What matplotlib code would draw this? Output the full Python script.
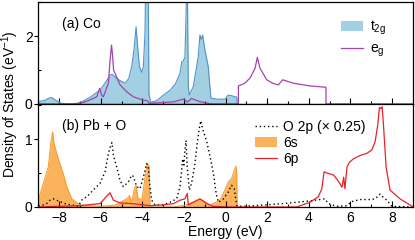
import numpy as np
import matplotlib
matplotlib.use("Agg")
import matplotlib.pyplot as plt
from matplotlib.ticker import MultipleLocator

plt.rcParams['font.family'] = ['Liberation Sans', 'DejaVu Sans']
plt.rcParams['font.size'] = 10
plt.rcParams['mathtext.fontset'] = 'custom'
plt.rcParams['mathtext.rm'] = 'Liberation Sans'
plt.rcParams['mathtext.it'] = 'Liberation Sans'

# (a) Co t2g / eg
t2g_x = [-9.0, -8.7, -8.5, -8.36, -8.2, -7.9, -7.5, -7.1, -6.9, -6.5, -6.03, -5.75, -5.55,
         -5.45, -5.32, -5.1, -4.83, -4.65, -4.51, -4.4, -4.3, -4.2, -4.14, -4.03, -3.95,
         -3.87, -3.83, -3.72, -3.68, -3.6, -3.3, -3.0, -2.67, -2.4, -2.19, -2.1, -2.03,
         -1.95, -1.84, -1.79, -1.74, -1.55, -1.39, -1.31, -1.23, -1.17, -1.1, -0.99, -0.83,
         -0.75, -0.7, -0.4, -0.03, 0.13, 0.3, 0.46, 0.54, 0.56]
t2g_y = [0.07, 0.1, 0.17, 0.19, 0.12, 0.02, 0.0, 0.02, 0.07, 0.2, 0.41, 0.65, 0.85,
         0.87, 0.8, 0.7, 0.61, 0.75, 1.1, 1.6, 2.27, 1.5, 1.1, 0.93, 1.1,
         2.1, 4.0, 4.0, 0.3, 0.05, 0.1, 0.25, 0.4, 0.6, 0.9, 1.24, 1.27,
         1.38, 4.0, 0.5, 0.26, 0.51, 1.1, 1.39, 2.03, 1.9, 2.03, 1.59, 1.1,
         0.51, 0.17, 0.14, 0.14, 0.26, 0.24, 0.21, 0.2, 0.0]

eg_x = [-9.0, -7.2, -6.8, -6.51, -6.19, -6.05, -5.95, -5.87, -5.63, -5.56, -5.48, -5.44,
        -5.38, -5.07, -4.75, -4.43, -4.0, -3.75, -3.67, -3.3, -2.5, -2.03, -1.9, -1.84,
        -1.63, -1.3, -1.07, -0.7, 0.62, 0.62, 0.9, 1.18, 1.42, 1.53, 1.66, 1.98, 2.3,
        2.54, 2.75, 3.26, 4.06, 4.83, 4.83, 9.0]
eg_y = [0.0, 0.0, 0.05, 0.12, 0.21, 0.46, 0.25, 0.21, 0.61, 1.2, 1.73, 1.5,
        1.0, 0.56, 0.36, 0.21, 0.12, 0.09, 0.02, 0.03, 0.06, 0.14, 0.1, 0.05,
        0.16, 0.08, 0.05, 0.0, 0.0, 0.53, 0.6, 0.76, 1.05, 1.37, 1.05, 0.71, 0.6,
        0.56, 0.71, 0.61, 0.53, 0.49, 0.0, 0.0]

# (b) Pb + O
s6_x = [-9.0, -8.76, -8.52, -8.4, -8.31, -8.25, -8.04, -7.8, -7.63, -7.39, -7.0, -6.0,
        -5.3, -5.07, -4.75, -4.62, -4.51, -4.4, -4.3, -4.19, -4.0, -3.87, -3.76, -3.67,
        -3.63, -3.4, -2.5, -1.9, -1.5, -1.23, -1.0, -0.75, -0.27, -0.03, 0.13, 0.29,
        0.42, 0.5, 0.54, 0.56]
s6_y = [0.1, 0.35, 0.59, 0.95, 1.11, 0.94, 0.71, 0.49, 0.3, 0.12, 0.03, 0.01,
        0.03, 0.07, 0.12, 0.17, 0.07, 0.25, 0.32, 0.1, 0.14, 0.44, 0.64, 0.6,
        0.0, 0.0, 0.0, 0.03, 0.08, 0.12, 0.08, 0.03, 0.1, 0.25, 0.37, 0.42,
        0.54, 0.6, 0.5, 0.0]

p6_x = [-9.0, -7.0, -6.03, -5.71, -5.55, -5.39, -5.07, -4.5, -3.63, -3.0, -2.5, -2.19,
        -1.95, -1.84, -1.79, -1.55, -1.23, -0.9, -0.6, 0.0, 3.0, 3.42, 4.06, 4.46, 4.63,
        4.74, 4.88, 5.2, 5.33, 5.49, 5.6, 5.68, 5.74, 5.84, 5.96, 6.15, 6.47, 6.79, 7.03,
        7.19, 7.32, 7.4, 7.47, 7.53, 7.59, 7.72, 7.91, 8.39, 8.87, 9.0]
p6_y = [0.0, 0.02, 0.05, 0.16, 0.21, 0.1, 0.06, 0.05, 0.02, 0.03, 0.05, 0.1,
        0.12, 0.2, 0.03, 0.07, 0.12, 0.05, 0.01, 0.0, 0.0, 0.0, 0.07, 0.15, 0.27,
        0.52, 0.5, 0.47, 0.42, 0.35, 0.29, 0.44, 0.27, 0.59, 0.66, 0.71, 0.76, 0.79, 0.84,
        0.96, 1.21, 1.47, 1.45, 1.48, 1.23, 0.59, 0.25, 0.12, 0.03, 0.0]

o2p_x = [-9.0, -8.76, -8.6, -8.44, -8.28, -8.12, -7.88, -7.63, -7.39, -7.08, -6.92, -6.6,
         -6.36, -6.03, -5.79, -5.63, -5.52, -5.46, -5.39, -5.23, -5.07, -4.91, -4.67, -4.51,
         -4.43, -4.27, -4.11, -3.95, -3.79, -3.72, -3.63, -3.55, -3.39, -3.0, -2.67, -2.35,
         -2.19, -2.11, -2.06, -2.0, -1.95, -1.9, -1.84, -1.74, -1.63, -1.47, -1.36, -1.26,
         -1.19, -1.07, -0.9, -0.74, -0.58, -0.45, -0.34, -0.1, 0.13, 0.29, 0.42, 0.54,
         0.8, 1.18, 2.78, 4.06, 4.54, 4.78, 4.94, 5.35, 5.84, 6.07, 6.47, 6.95, 7.19,
         7.43, 7.56, 7.75, 8.0, 9.0]
o2p_y = [0.02, 0.03, 0.05, 0.1, 0.12, 0.1, 0.07, 0.04, 0.03, 0.01, 0.1, 0.17,
         0.25, 0.35, 0.52, 0.79, 0.91, 0.95, 0.76, 0.59, 0.39, 0.3, 0.37, 0.47,
         0.45, 0.3, 0.27, 0.44, 0.64, 0.6, 0.3, 0.1, 0.03, 0.03, 0.07, 0.12,
         0.3, 0.54, 0.71, 0.62, 0.84, 0.98, 0.59, 0.25, 0.35, 0.64, 0.94, 1.16,
         1.27, 1.12, 0.96, 0.74, 0.49, 0.2, 0.07, 0.12, 0.22, 0.32, 0.27, 0.02,
         0.01, 0.015, 0.05, 0.09, 0.11, 0.12, 0.05, 0.01, 0.02, 0.08, 0.11, 0.11, 0.12,
         0.19, 0.15, 0.1, 0.01, 0.0]

blue_fill = '#a3cfe3'
blue_line = '#4f94c8'
purple = '#a244ab'
orange_fill = '#fbb25a'
orange_line = '#f59a2c'
red = '#e8222a'

fig = plt.figure(figsize=(4.15, 2.4), dpi=100)
ax1 = fig.add_axes([0.0923, 0.567, 0.9022, 0.4245])
ax2 = fig.add_axes([0.0923, 0.1375, 0.9022, 0.4295])

ax1.fill_between(t2g_x, t2g_y, color=blue_fill, lw=0, label='$\\mathregular{t_{2g}}$')
ax1.plot(t2g_x, t2g_y, color=blue_line, lw=0.8)
ax1.plot(eg_x, eg_y, color=purple, lw=0.9, label='$\\mathregular{e_g}$')
ax1.set_ylim(0, 3)
ax1.yaxis.set_major_locator(MultipleLocator(2))
ax1.yaxis.set_minor_locator(MultipleLocator(1))
ax1.text(0.063, 0.745, '(a) Co', transform=ax1.transAxes)
ax1.legend(loc='upper left', bbox_to_anchor=(0.79, 0.90), frameon=False, borderpad=0,
           handlelength=1.6, handletextpad=0.45, labelspacing=0.3, fontsize=10)
ax1.set_xticklabels([])

ax2.fill_between(s6_x, s6_y, color=orange_fill, lw=0, label='6s')
ax2.plot(s6_x, s6_y, color=orange_line, lw=0.7)
ax2.plot(o2p_x, o2p_y, color='black', lw=1.0, ls=(0, (1, 2)), label='O 2p (\u00d7 0.25)')
ax2.plot(p6_x, p6_y, color=red, lw=0.9, label='6p')
ax2.set_ylim(0, 1.52)
ax2.yaxis.set_major_locator(MultipleLocator(1))
ax2.yaxis.set_minor_locator(MultipleLocator(0.5))
ax2.text(0.063, 0.75, '(b) Pb + O', transform=ax2.transAxes)
h, l = ax2.get_legend_handles_labels()
order = [1, 0, 2]
ax2.legend([h[i] for i in order], [l[i] for i in order], loc='upper left',
           bbox_to_anchor=(0.56, 0.915), frameon=False, borderpad=0,
           handlelength=1.6, handletextpad=0.45, labelspacing=0.15, fontsize=10)
ax2.set_xlabel('Energy (eV)', labelpad=0)

for ax in (ax1, ax2):
    ax.set_xlim(-9, 9)
    ax.xaxis.set_major_locator(MultipleLocator(2))
    ax.xaxis.set_minor_locator(MultipleLocator(1))
    ax.tick_params(axis='x', which='major', direction='in', length=4, width=0.8, pad=3)
    ax.tick_params(axis='x', which='minor', direction='in', length=2.5, width=0.8)
    ax.tick_params(axis='y', which='major', direction='out', length=3, width=0.8, pad=1)
    ax.tick_params(axis='y', which='minor', direction='in', length=2, width=0.8)
    for s in ax.spines.values():
        s.set_linewidth(0.9)

fig.text(0.024, 0.565, 'Density of States (eV$^{\\mathregular{-1}}$)', rotation=90,
         ha='center', va='center')

fig.savefig('out.png', dpi=100)
